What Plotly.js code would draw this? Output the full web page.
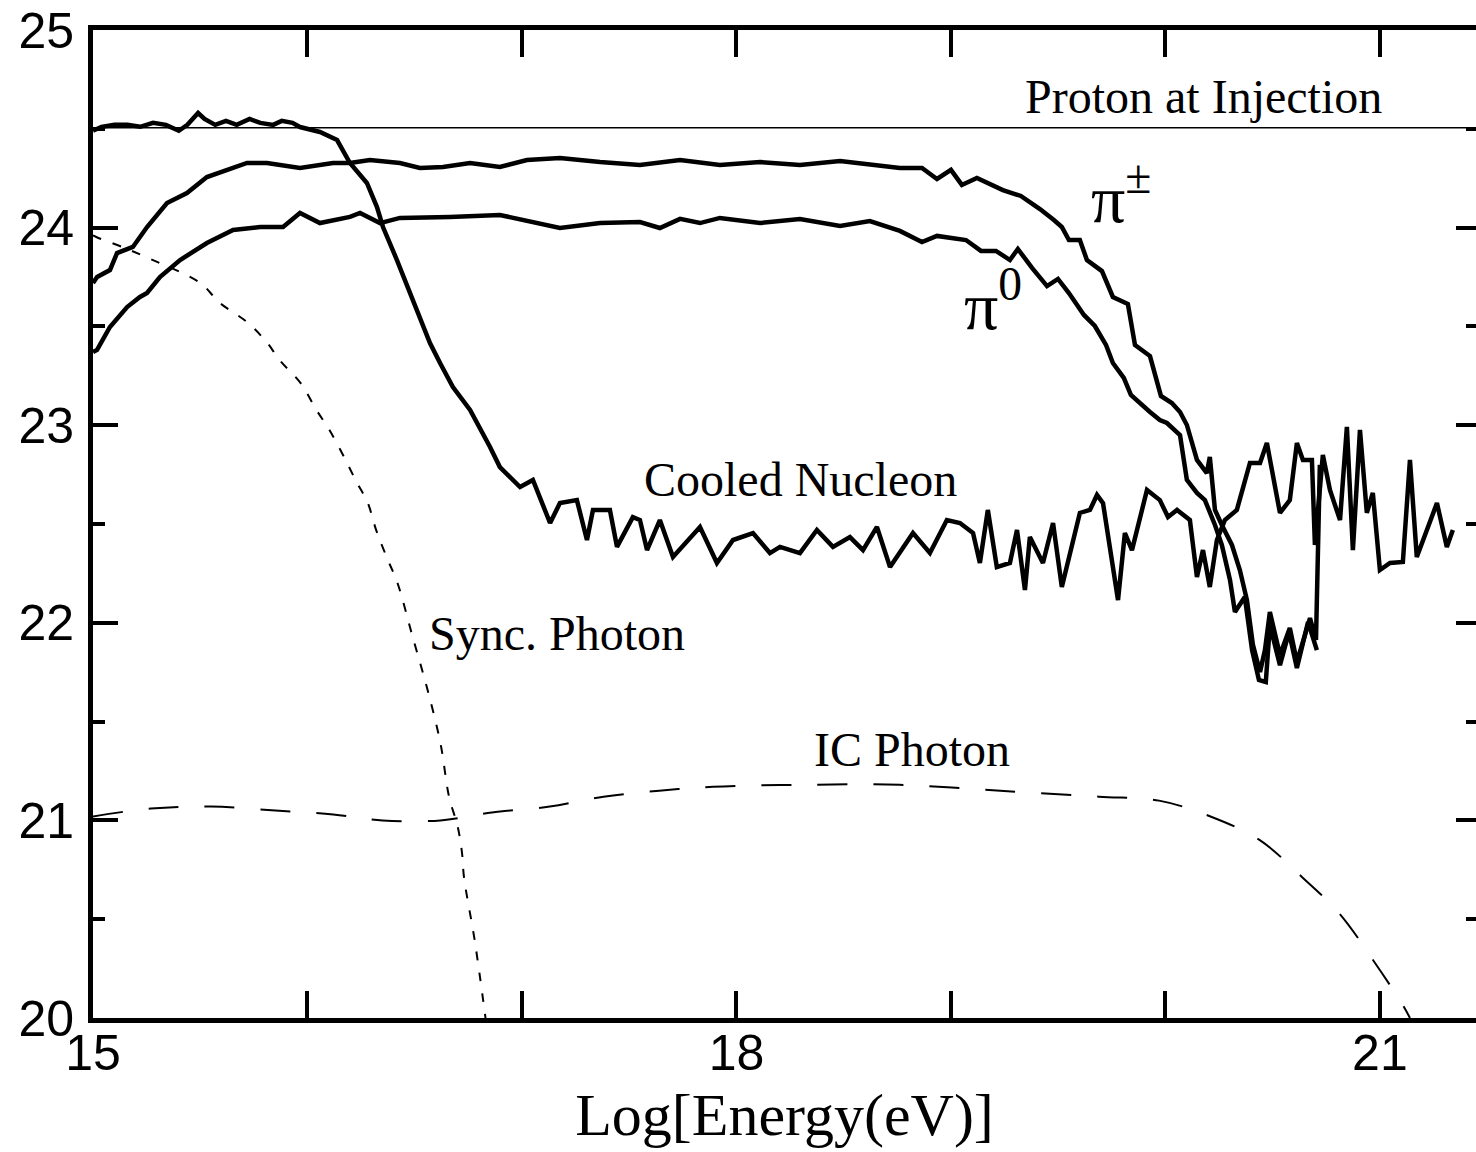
<!DOCTYPE html>
<html>
<head>
<meta charset="utf-8">
<script src="https://cdn.plot.ly/plotly-3.0.1.min.js"></script>
<style>
html, body { margin: 0; padding: 0; background: #ffffff; overflow: hidden; }
#chart { width: 1476px; height: 1152px; }
</style>
</head>
<body>
<div id="chart"></div>
<script>
// ---- Data (x = Log[Energy(eV)], y = log flux) ----
const protonX = [15.0, 21.45];
const protonY = [24.505, 24.505];

const nucleonX = [15.00,15.04,15.10,15.16,15.22,15.28,15.34,15.40,15.44,15.49,15.52,15.57,15.62,15.67,15.73,15.78,15.84,15.88,15.93,15.965,
  16.058,16.138,16.198,16.277,16.324,16.352,16.417,16.478,16.524,16.571,16.618,16.678,16.758,16.818,16.851,16.897,16.991,17.051,17.131,17.177,
  17.256,17.303,17.331,17.410,17.443,17.517,17.550,17.583,17.643,17.704,17.830,17.909,17.984,18.077,18.156,18.203,18.296,18.375,18.450,18.529,
  18.590,18.655,18.716,18.823,18.902,18.981,19.042,19.103,19.135,19.172,19.214,19.275,19.308,19.345,19.368,19.429,19.476,19.517,19.601,19.648,
  19.681,19.709,19.779,19.811,19.844,19.914,19.974,20.012,20.054,20.114,20.147,20.175,20.207,20.240,20.277,20.333,20.394,20.441,20.473,20.534,
  20.580,20.613,20.641,20.683,20.697,20.734,20.767,20.814,20.846,20.874,20.907,20.939,20.967,21.000,21.047,21.107,21.140,21.172,21.266,21.312,21.340];
const nucleonY = [24.49,24.51,24.52,24.52,24.51,24.53,24.52,24.49,24.52,24.58,24.55,24.52,24.54,24.52,24.55,24.53,24.52,24.54,24.53,24.509,
  24.484,24.443,24.327,24.226,24.104,24.003,23.836,23.669,23.532,23.416,23.315,23.193,23.077,22.961,22.890,22.788,22.687,22.723,22.505,22.606,
  22.621,22.419,22.571,22.571,22.384,22.535,22.520,22.368,22.520,22.333,22.485,22.303,22.419,22.454,22.353,22.384,22.353,22.470,22.384,22.434,
  22.368,22.485,22.282,22.454,22.353,22.520,22.505,22.454,22.303,22.571,22.282,22.303,22.470,22.166,22.434,22.303,22.505,22.181,22.556,22.571,
  22.647,22.606,22.115,22.454,22.368,22.672,22.621,22.535,22.571,22.520,22.232,22.368,22.181,22.419,22.520,22.571,22.809,22.809,22.910,22.556,
  22.621,22.910,22.824,22.824,22.394,22.849,22.672,22.520,22.991,22.368,22.976,22.556,22.657,22.267,22.303,22.308,22.824,22.333,22.606,22.384,22.470];

const piChargedX = [15.000,15.019,15.079,15.112,15.186,15.252,15.345,15.438,15.531,15.625,15.718,15.811,
  15.965,16.119,16.198,16.291,16.431,16.524,16.632,16.758,16.897,17.023,17.177,17.364,
  17.550,17.737,17.923,18.110,18.296,18.483,18.622,
  18.762,18.865,18.935,19.000,19.051,19.121,19.242,19.326,19.415,19.480,
  19.517,19.550,19.601,19.634,19.704,19.755,19.825,19.858,19.928,19.979,
  20.030,20.068,20.100,20.147,20.193,20.207,20.231,20.263,20.310,20.347,
  20.380,20.408,20.441,20.464,20.487,20.534,20.580,20.613,20.674,20.702,20.720];
const piChargedY = [23.720,23.750,23.785,23.871,23.902,24.003,24.124,24.175,24.256,24.291,24.327,24.327,
  24.302,24.327,24.327,24.342,24.327,24.302,24.307,24.327,24.307,24.342,24.352,24.332,
  24.317,24.342,24.317,24.332,24.317,24.337,24.317,
  24.302,24.302,24.246,24.292,24.216,24.251,24.190,24.160,24.094,24.038,
  24.003,23.937,23.937,23.836,23.780,23.649,23.613,23.406,23.350,23.148,
  23.112,23.067,23.001,22.824,22.758,22.839,22.571,22.495,22.394,22.267,
  22.115,21.888,21.751,21.862,22.055,21.837,21.974,21.802,22.024,21.913,22.799];

const piNeutralX = [15.000,15.019,15.079,15.159,15.219,15.252,15.312,15.406,15.531,15.653,
  15.779,15.886,15.965,16.058,16.198,16.245,16.338,16.431,16.664,16.897,
  17.177,17.364,17.550,17.643,17.737,17.830,17.923,18.110,18.296,18.483,
  18.622,18.762,18.865,18.935,19.070,19.140,19.210,19.275,19.312,19.378,
  19.448,19.499,19.550,19.620,19.671,19.723,19.755,19.806,19.839,19.890,
  19.928,19.974,20.007,20.068,20.100,20.147,20.184,20.231,20.263,20.301,
  20.324,20.370,20.404,20.436,20.468,20.487,20.534,20.576,20.613,20.665,20.706];
const piNeutralY = [23.370,23.381,23.497,23.598,23.649,23.669,23.750,23.836,23.922,23.988,
  24.003,24.003,24.074,24.023,24.054,24.074,24.023,24.049,24.054,24.064,
  23.998,24.023,24.028,23.998,24.044,24.023,24.049,24.023,24.044,24.008,
  24.033,23.983,23.927,23.958,23.937,23.882,23.882,23.836,23.892,23.796,
  23.704,23.740,23.669,23.558,23.502,23.406,23.315,23.239,23.153,23.102,
  23.067,23.026,23.011,22.950,22.723,22.657,22.621,22.495,22.394,22.217,
  22.055,22.131,21.862,21.711,21.700,21.989,21.786,21.953,21.771,22.004,21.862];

const syncX = [15.00,15.02,15.14,15.27,15.50,15.59,15.72,15.81,15.87,15.97,
  16.04,16.10,16.17,16.23,16.28,16.32,16.37,16.42,16.49,16.56,
  16.62,16.66,16.70,16.72,16.73,16.78,16.83];
const syncY = [23.96,23.95,23.90,23.84,23.72,23.62,23.52,23.42,23.33,23.21,
  23.08,22.98,22.84,22.71,22.61,22.47,22.33,22.20,21.93,21.66,
  21.39,21.12,20.97,20.84,20.71,20.39,20.00];

const icX = [15.00,15.27,15.55,15.85,16.12,16.35,16.62,16.86,17.13,17.38,17.64,17.89,
  18.30,18.76,19.23,19.69,19.97,20.21,20.44,20.64,20.81,20.97,21.11,21.14];
const icY = [21.02,21.06,21.07,21.05,21.03,21.00,21.00,21.04,21.07,21.12,21.15,21.17,
  21.18,21.18,21.15,21.12,21.10,21.02,20.90,20.71,20.53,20.29,20.06,20.00];

const xRange = [15, 21.448];
const yRange = [20, 25];

// ---- Labels ----
const labelTexts = ['Proton at Injection', 'π<sup>±</sup>', 'π<sup>0</sup>', 'Cooled Nucleon', 'Sync. Photon', 'IC Photon'];
const labelX = [19.336, 19.643, 19.051, 17.559, 16.557, 18.352];
const labelY = [24.665, 24.17, 23.63, 22.723, 21.948, 21.361];
const labelSize = [48, 68, 68, 48, 48, 48];

const black = '#000000';
const traces = [
  {x: protonX, y: protonY, yaxis: 'y2', mode: 'lines', line: {color: black, width: 1.6}, name: 'Proton at Injection'},
  {x: nucleonX, y: nucleonY, mode: 'lines', line: {color: black, width: 4.5}, name: 'Cooled Nucleon'},
  {x: piChargedX, y: piChargedY, mode: 'lines', line: {color: black, width: 4.5}, name: 'π±'},
  {x: piNeutralX, y: piNeutralY, mode: 'lines', line: {color: black, width: 4.5}, name: 'π0'},
  {x: syncX, y: syncY, mode: 'lines', line: {color: black, width: 2, dash: '9px,12px', shape: 'spline'}, name: 'Sync. Photon'},
  {x: icX, y: icY, mode: 'lines', line: {color: black, width: 2, dash: '30px,26px', shape: 'spline'}, name: 'IC Photon'}
];

const annotations = labelTexts.map((t, i) => ({
  x: labelX[i], y: labelY[i], xref: 'x', yref: 'y', text: t, showarrow: false,
  xanchor: 'left', yanchor: 'middle',
  font: {family: 'Liberation Serif, Times New Roman, serif', size: labelSize[i], color: black}
}));

const tickFont = {family: 'Liberation Sans, Arial, sans-serif', size: 50, color: black};

const layout = {
  width: 1476, height: 1152,
  margin: {l: 93, r: 0, t: 30, b: 134, pad: 0},
  paper_bgcolor: '#ffffff', plot_bgcolor: '#ffffff',
  showlegend: false,
  hovermode: false,
  xaxis: {
    range: xRange, tickmode: 'linear', tick0: 15, dtick: 3,
    showline: true, linewidth: 5, linecolor: black, mirror: 'allticks',
    ticks: 'inside', ticklen: 27, tickwidth: 4, tickcolor: black,
    minor: {ticks: 'inside', dtick: 1, tick0: 15, ticklen: 13, tickwidth: 4, tickcolor: black, showgrid: false},
    showgrid: false, zeroline: false,
    tickfont: tickFont, ticklabelstandoff: -13,
    title: {text: 'Log[Energy(eV)]', font: {family: 'Liberation Serif, Times New Roman, serif', size: 60, color: black}, standoff: 14}
  },
  yaxis: {
    range: yRange, tickmode: 'linear', tick0: 20, dtick: 1,
    showline: true, linewidth: 5, linecolor: black,
    ticks: 'inside', ticklen: 25, tickwidth: 4, tickcolor: black,
    minor: {ticks: 'inside', dtick: 0.5, tick0: 20, ticklen: 12, tickwidth: 4, tickcolor: black, showgrid: false},
    showgrid: false, zeroline: false,
    tickfont: tickFont, ticklabelstandoff: 4
  },
  yaxis2: {
    range: yRange, overlaying: 'y', side: 'right', anchor: 'x',
    tickmode: 'linear', tick0: 20, dtick: 1,
    showline: false, showticklabels: false,
    ticks: 'inside', ticklen: 20, tickwidth: 4, tickcolor: black,
    minor: {ticks: 'inside', dtick: 0.5, tick0: 20, ticklen: 10, tickwidth: 4, tickcolor: black, showgrid: false},
    showgrid: false, zeroline: false
  },
  annotations: annotations
};

Plotly.newPlot('chart', traces, layout, {displayModeBar: false, staticPlot: true});
</script>
</body>
</html>
